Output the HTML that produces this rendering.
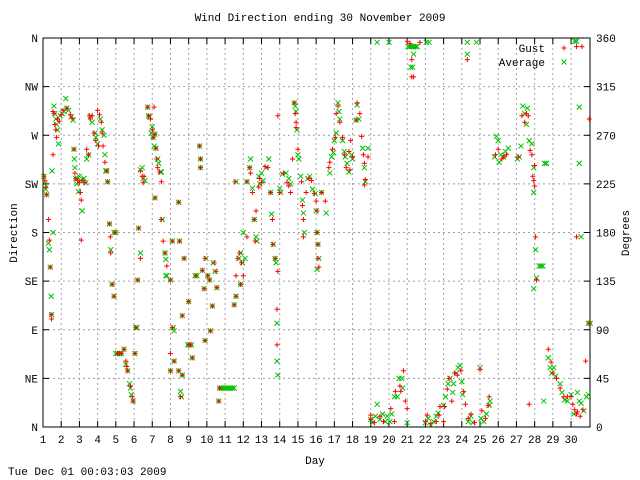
<!DOCTYPE html>
<html><head><meta charset="utf-8"><style>
html,body{margin:0;padding:0;background:#fff;}
svg{display:block;font-family:"Liberation Mono","DejaVu Sans Mono",monospace;font-size:11px;}
</style></head><body>
<svg id="chart" width="640" height="480" xmlns="http://www.w3.org/2000/svg">
<rect width="640" height="480" fill="#fff"/>
<text x="320" y="21" text-anchor="middle">Wind Direction ending 30 November 2009</text>
<text x="315" y="464" text-anchor="middle">Day</text>
<text transform="translate(17,233) rotate(-90)" text-anchor="middle">Direction</text>
<text transform="translate(629,233) rotate(-90)" text-anchor="middle">Degrees</text>
<text x="8" y="475">Tue Dec 01 00:03:03 2009</text>
<g id="grid"></g>
<g id="axes"></g>
<g id="marks"></g>
<g>
<text x="545" y="52" text-anchor="end">Gust</text>
<text x="545" y="66" text-anchor="end">Average</text>
</g>
</svg>
<script>
const dayTicks=[1,2,3,4,5,6,7,8,9,10,11,12,13,14,15,16,17,18,19,20,21,22,23,24,25,26,27,28,29,30];
const degTicks=[0,45,90,135,180,225,270,315,360];
const dirLabels=["N","NE","E","SE","S","SW","W","NW","N"];
const gustPoints=[
[1.05,232],[1.1,228],[1.15,222],[1.2,215],[1.3,192],[1.35,173],[1.4,148],[1.45,104],[1.47,100],
[1.55,292],[1.6,290],[1.65,280],[1.7,275],[1.75,268],[1.55,252],[1.8,285],[1.9,283],
[2.0,289],[2.1,293],[2.3,295],[2.5,289],[2.6,286],[2.7,257],[2.75,235],[2.8,230],[2.9,228],[3.0,226],[3.05,217],[3.1,210],[3.1,173],[3.2,228],[3.3,226],
[3.4,257],[3.5,252],[3.55,288],[3.6,285],[3.7,288],[3.8,272],[3.9,265],[4.0,293],[4.05,260],[4.1,289],[4.2,282],[4.25,272],[4.3,260],[4.4,245],[4.5,237],[4.55,227],
[4.65,188],[4.7,176],[4.72,161],[4.8,132],[4.9,121],[4.95,180],[5.1,68],[5.2,68],[5.3,68],[5.45,72],[5.55,61],[5.6,56],[5.65,52],[5.8,38],[5.9,28],[5.95,24],[6.05,68],[6.1,92],[6.2,136],[6.25,184],[6.35,156],
[6.35,237],[6.45,232],[6.5,226],[6.55,232],[6.75,296],[6.8,288],[6.9,285],[7.0,275],[7.05,268],[7.1,296],[7.15,271],[7.2,258],[7.25,248],[7.3,240],[7.4,236],[7.5,227],[7.15,212],[7.5,192],[7.6,172],[7.7,161],[7.8,149],[8.0,136],[8.1,172],[8.5,172],[8.45,208],[8.1,92],[8.0,68],[8.2,61],[8.0,52],[8.45,52],[8.65,48],[8.55,28],
[8.75,156],[9.0,116],[8.65,103],[9.0,76],[9.1,76],[9.2,64],[9.4,140],[9.6,260],[9.65,248],[9.65,240],[9.75,145],[9.85,128],[9.9,80],[9.9,156],[10.05,140],[10.15,136],[10.2,89],[10.3,112],[10.4,152],[10.5,144],[10.55,129],[10.65,24],[10.7,36],[11.5,113],[11.6,121],[11.6,140],[11.55,227],[11.7,156],[11.8,161],[11.85,132],[11.9,152],[12.0,140],[12.2,176],[12.2,227],[12.35,240],[12.4,235],[12.5,217],[12.6,192],[12.65,172],[12.7,200],[12.85,222],[12.9,230],[13.0,226],[13.2,241],[13.35,240],[13.5,217],[13.6,192],[13.62,169],[13.75,156],[13.9,144],[13.85,109],[13.85,76],[13.9,288],[14.0,217],[14.2,235],[14.4,226],[14.5,223],[14.6,217],[14.7,248],[14.8,300],[14.85,290],[14.9,282],[14.9,277],[15.0,257],[15.2,227],[15.25,205],[15.3,192],[15.3,176],[15.45,217],[15.6,230],[15.75,228],[15.9,216],[16.0,209],[16.05,200],[16.05,180],[16.1,169],[16.1,156],[16.15,148],
[16.3,217],[16.5,209],[16.7,240],[16.75,245],[16.9,257],[17.05,268],[17.1,290],[17.2,297],[17.3,282],[17.45,268],[17.55,252],[17.65,240],[17.8,255],[17.85,238],[17.9,265],[18.0,250],[18.2,284],[18.25,300],[18.4,290],[18.5,269],[18.6,252],[18.65,244],[18.7,229],[18.65,224],[18.85,250],
[19.0,7],[19.2,4],[19.0,11],[19.5,10],[19.7,5],[20.1,17],[20.3,5],[20.35,33],[20.6,38],[20.65,33],[20.8,52],[20.9,24],[21.0,17],[21.0,357],[21.15,355],[21.25,340],[21.25,324],[21.35,324],[21.7,356],
[22.0,5],[22.1,11],[22.3,3],[22.6,5],[22.75,11],[22.8,19],[23.0,5],[23.05,19],[23.2,35],[23.3,45],[23.45,24],[23.6,50],[23.75,48],[23.95,52],[24.1,33],[24.2,21],[24.3,340],[24.35,8],[24.5,12],[24.7,4],[25.0,53],[25.1,15],[25.3,8],[25.5,28],[25.45,20],
[25.85,252],[26.0,257],[26.2,248],[26.3,250],[26.45,252],[27.1,250],[27.3,288],[27.45,282],[27.55,290],[27.65,288],[27.75,256],[27.85,252],[27.9,232],[27.95,228],[28.0,223],[28.0,242],[28.05,176],[28.1,136],[27.7,21],[28.75,72],[28.9,60],[29.0,50],[29.2,45],[29.4,36],[29.6,28],[29.8,28],[30.0,28],[30.1,21],[30.2,16],[30.3,12],[30.35,14],[30.5,10],[30.65,16],[30.8,61],[30.3,352],[30.6,352],[30.3,176],[31.0,285],[31.0,96]
];
const avgPoints=[
[1.05,232],[1.1,225],[1.15,220],[1.2,215],[1.3,170],[1.35,164],[1.4,148],[1.45,121],[1.47,104],[1.5,237],[1.55,180],
[1.6,297],[1.65,290],[1.7,285],[1.75,280],[1.8,275],[1.85,262],[1.95,288],[2.05,290],[2.15,292],[2.25,304],[2.3,295],[2.4,293],[2.55,287],[2.65,284],[2.7,257],[2.72,248],[2.75,240],[2.8,230],[2.85,225],[2.95,218],[3.0,232],[3.05,228],[3.15,200],[3.25,230],[3.35,226],
[3.4,248],[3.5,252],[3.6,288],[3.7,282],[3.85,272],[3.9,268],[4.0,262],[4.15,285],[4.25,275],[4.35,270],[4.4,252],[4.45,237],[4.5,237],[4.55,227],
[4.65,188],[4.72,164],[4.8,132],[4.9,121],[4.9,180],[5.0,180],[5.0,68],[5.1,68],[5.2,68],[5.3,68],[5.45,72],[5.55,58],[5.65,52],[5.75,40],[5.8,36],[5.85,30],[5.95,24],[6.05,68],[6.1,92],[6.15,92],[6.2,136],[6.25,184],[6.35,161],
[6.35,238],[6.45,240],[6.5,230],[6.6,228],[6.75,296],[6.8,288],[6.85,287],[6.95,272],[7.0,278],[7.05,268],[7.1,260],[7.15,271],[7.2,258],[7.3,248],[7.35,244],[7.45,236],[7.5,236],[7.15,212],[7.55,192],[7.7,161],[7.75,155],[7.75,140],[7.8,140],[8.0,136],[8.1,172],[8.45,208],[8.5,172],[8.15,92],[8.2,89],[8.2,61],[8.0,52],[8.45,52],[8.65,48],[8.55,33],[8.6,28],
[8.75,156],[9.0,116],[8.65,103],[8.95,76],[9.05,76],[9.15,76],[9.2,64],[9.35,140],[9.45,140],[9.6,260],[9.65,248],[9.65,240],[9.75,145],[9.85,128],[9.9,80],[9.95,156],[10.05,140],[10.15,136],[10.2,89],[10.3,112],[10.35,152],[10.45,144],[10.55,129],[10.65,24],
[10.7,36],[10.8,36],[10.9,36],[11.0,36],[11.1,36],[11.2,36],[11.3,36],[11.4,36],[11.5,36],[11.5,113],[11.6,121],[11.6,227],[11.75,156],[11.85,161],[11.85,132],[11.95,152],[12.0,180],[12.1,156],[12.2,227],[12.35,240],[12.4,248],[12.5,221],[12.6,192],[12.7,176],[12.75,172],[12.85,232],[12.9,225],[13.0,235],[13.1,228],[13.25,240],[13.4,248],[13.5,217],[13.55,197],[13.65,169],[13.75,156],[13.8,152],[13.85,96],[13.85,61],[13.9,48],[14.0,221],[14.05,217],[14.15,234],[14.35,235],[14.5,230],[14.6,225],[14.8,300],[14.85,297],[14.9,292],[14.95,275],[15.0,252],[15.05,248],[15.15,232],[15.25,210],[15.3,198],[15.35,180],[15.55,230],[15.65,232],[15.8,220],[15.95,216],[16.0,200],[16.05,180],[16.1,169],[16.15,156],[16.05,146],
[16.3,217],[16.55,198],[16.75,235],[16.85,250],[16.95,254],[17.0,265],[17.1,272],[17.2,300],[17.25,292],[17.3,285],[17.45,265],[17.55,255],[17.6,250],[17.7,244],[17.8,236],[17.95,252],[18.0,248],[18.2,284],[18.25,298],[18.35,285],[18.55,258],[18.65,240],[18.7,227],[18.85,258],
[19.0,7],[19.1,4],[19.25,10],[19.35,21],[19.35,356],[19.5,7],[19.65,12],[19.8,5],[19.9,10],[20.0,356],[20.05,5],[20.15,12],[20.3,28],[20.45,28],[20.55,45],[20.7,45],[20.75,36],[21.0,4],
[21.05,352],[21.15,352],[21.25,352],[21.35,352],[21.45,352],[21.55,352],[21.3,333],[21.35,345],[21.2,333],[22.05,356],[22.2,356],
[22.0,4],[22.15,8],[22.3,2],[22.45,5],[22.6,10],[22.7,13],[23.0,20],[23.1,28],[23.25,40],[23.35,45],[23.5,32],[23.55,40],[23.7,50],[23.8,55],[23.9,57],[24.0,42],[24.05,30],[24.3,356],[24.3,345],[24.8,356],[24.35,5],[24.5,10],[24.6,4],[25.0,55],[25.05,8],[25.2,5],[25.35,12],[25.5,20],[25.55,24],
[25.8,250],[25.9,269],[26.0,265],[26.05,245],[26.15,252],[26.3,250],[26.4,255],[26.55,258],[27.05,248],[27.15,250],[27.25,260],[27.35,297],[27.45,290],[27.55,280],[27.6,295],[27.7,265],[27.85,262],[27.95,240],[27.95,217],[28.05,164],[28.25,149],[28.35,149],[28.45,149],[28.1,138],[27.95,128],[28.55,244],[28.65,244],[28.5,24],[28.75,64],[28.85,55],[28.95,50],[29.05,55],[29.15,47],[29.4,40],[29.5,32],[29.65,25],[29.8,24],[30.0,30],[30.15,12],[30.35,32],[30.45,24],[30.55,22],[30.7,15],[30.85,28],[30.95,30],
[30.2,357],[30.3,357],[30.45,296],[30.45,244],[30.55,176],[30.95,96],[31.05,96]
];
const X0=43,X1=590,Y0=427,Y1=38,DMIN=1,DMAX=31.04;
function xScale(d){return X0+(d-DMIN)/(DMAX-DMIN)*(X1-X0);}
function yScale(v){return Y0-v/360*(Y0-Y1);}
const NS="http://www.w3.org/2000/svg";
function mk(tag,attrs,parent){const e=document.createElementNS(NS,tag);for(const k in attrs)e.setAttribute(k,attrs[k]);parent.appendChild(e);return e;}
const grid=document.getElementById('grid'),axes=document.getElementById('axes'),marks=document.getElementById('marks');
dayTicks.forEach(d=>{
  const x=xScale(d);
  const l=mk('line',{x1:x,x2:x,y1:Y1,y2:Y0,stroke:'#a0a0a0','stroke-dasharray':'2,3','stroke-width':1},grid);
  
  
  mk('line',{x1:x,x2:x,y1:Y0,y2:Y0-6,stroke:'#000'},axes);
  mk('line',{x1:x,x2:x,y1:Y1,y2:Y1+6,stroke:'#000'},axes);
  const t=mk('text',{x:x,y:443,'text-anchor':'middle'},axes);
  t.textContent=d;
  
  
});
degTicks.forEach((v,i)=>{
  const y=yScale(v);
  const l=mk('line',{x1:X0,x2:X1,y1:y,y2:y,stroke:'#a0a0a0','stroke-dasharray':'2,3','stroke-width':1},grid);
  
  
  mk('line',{x1:X0,x2:X0+6,y1:y,y2:y,stroke:'#000'},axes);
  mk('line',{x1:X1,x2:X1-6,y1:y,y2:y,stroke:'#000'},axes);
  const tl=mk('text',{x:X0-5,y:y+4,'text-anchor':'end'},axes);
  tl.textContent=dirLabels[i];
  
  
  const tr=mk('text',{x:X1+6,y:y+4,'text-anchor':'start'},axes);
  tr.textContent=v;
  
  
});
const frame=mk('rect',{x:X0,y:Y1,width:X1-X0,height:Y0-Y1,fill:'none',stroke:'#000'},axes);


function plus(x,y,c,p){return mk('path',{d:`M${x-2.5},${y}H${x+2.5}M${x},${y-2.5}V${y+2.5}`,stroke:c,'stroke-width':1,fill:'none'},p);}
function cross(x,y,c,p){return mk('path',{d:`M${x-2.5},${y-2.5}L${x+2.5},${y+2.5}M${x-2.5},${y+2.5}L${x+2.5},${y-2.5}`,stroke:c,'stroke-width':1,fill:'none'},p);}
avgPoints.forEach(p=>{
  const m=cross(xScale(p[0]),yScale(p[1]),'#00c000',marks);
  
  
});
gustPoints.forEach(p=>{
  const m=plus(xScale(p[0]),yScale(p[1]),'#ff0000',marks);
  
  
});
const lg=plus(564,48,'#ff0000',document.getElementById('chart'));


const la=cross(564,62,'#00c000',document.getElementById('chart'));


</script>
</body></html>
